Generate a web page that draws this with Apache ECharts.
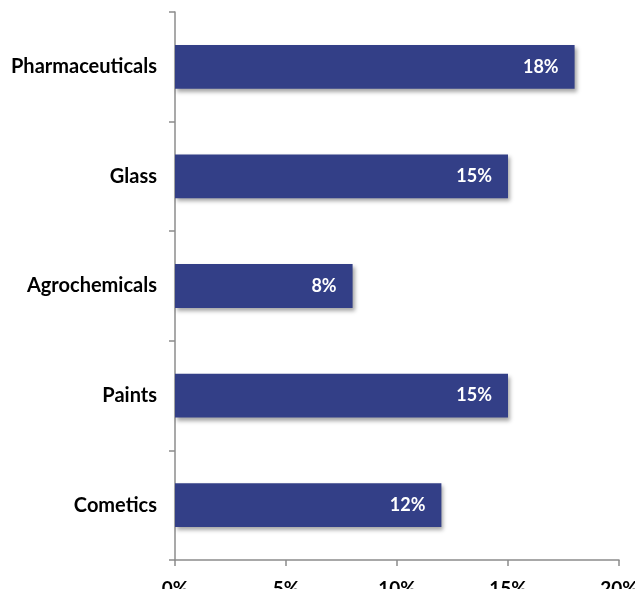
<!DOCTYPE html>
<html>
<head>
<meta charset="utf-8">
<script src="https://cdn.jsdelivr.net/npm/echarts@6/dist/echarts.min.js"></script>
<style>
  html, body { margin: 0; padding: 0; background: #fff; overflow: hidden; }
  #chart { width: 635px; height: 589px; }
</style>
</head>
<body>
<div id="chart"></div>
<script>
// Industry categories, listed bottom to top
const categories = ['Cometics', 'Paints', 'Agrochemicals', 'Glass', 'Pharmaceuticals'];
// Share of each industry, in percent
const shares = [12, 15, 8, 15, 18];
// Horizontal axis ticks, in percent
const xTicks = [0, 5, 10, 15, 20];

const axisGrey = '#8c8c8c';
const labelFont = 'Lato, "Open Sans", "Liberation Sans", sans-serif';

const chart = echarts.init(document.getElementById('chart'), null, { renderer: 'canvas' });
chart.setOption({
  animation: false,
  grid: {
    left: 175, right: 16, top: 12, bottom: 29,
    containLabel: false,
    outerBoundsMode: 'none'
  },
  xAxis: {
    type: 'value',
    min: xTicks[0],
    max: xTicks[xTicks.length - 1],
    interval: xTicks[1] - xTicks[0],
    splitLine: { show: false },
    axisLine: { show: true, lineStyle: { color: axisGrey, width: 1.5 } },
    axisTick: { show: true, length: 6, lineStyle: { color: axisGrey, width: 1.5 } },
    axisLabel: {
      margin: 19,
      formatter: v => v + '%',
      color: '#000',
      fontFamily: labelFont,
      fontWeight: 'bold',
      fontSize: 19
    }
  },
  yAxis: {
    type: 'category',
    data: categories,
    axisLine: { show: true, lineStyle: { color: axisGrey, width: 1.5 } },
    axisTick: { show: true, length: 6, lineStyle: { color: axisGrey, width: 1.5 } },
    axisLabel: {
      margin: 18,
      color: '#000',
      fontFamily: labelFont,
      fontWeight: 'bold',
      fontSize: 20
    }
  },
  series: [{
    type: 'bar',
    data: shares,
    barCategoryGap: '60%',
    itemStyle: {
      color: '#333f87',
      shadowColor: 'rgba(0,0,0,0.35)',
      shadowBlur: 4,
      shadowOffsetX: 2,
      shadowOffsetY: 3
    },
    label: {
      show: true,
      position: 'insideRight',
      distance: 16,
      formatter: p => p.value + '%',
      color: '#fff',
      fontFamily: labelFont,
      fontWeight: 'bold',
      fontSize: 18
    }
  }]
});
</script>
</body>
</html>
